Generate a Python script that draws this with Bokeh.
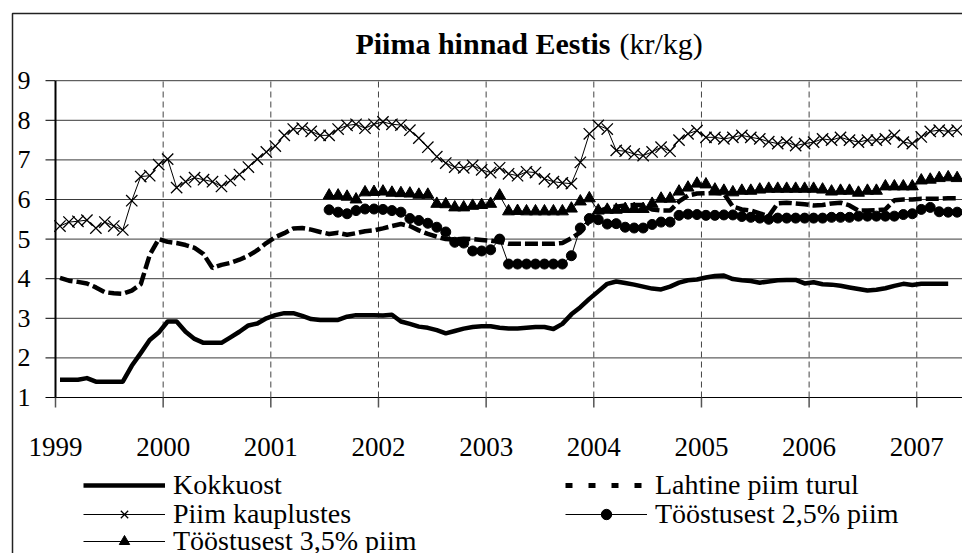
import pandas as pd
from bokeh.plotting import figure
from bokeh.models import Range1d, Legend, LegendItem, Label, ColumnDataSource
from bokeh.core.properties import value
from bokeh.embed import file_html
from bokeh.resources import INLINE

# ---------------- data (monthly prices, kr/kg) ----------------
year_ticks = [1999, 2000, 2001, 2002, 2003, 2004, 2005, 2006, 2007]
year_labels = [str(y) for y in year_ticks]
y_ticks = [1, 2, 3, 4, 5, 6, 7, 8, 9]
y_labels = [str(v) for v in y_ticks]

kokkuost_start = "1999-01"
kokkuost = [1.45, 1.45, 1.45, 1.49, 1.40, 1.40, 1.40, 1.40, 1.80, 2.12, 2.45, 2.64,
            2.92, 2.92, 2.66, 2.48, 2.38, 2.38, 2.38, 2.52, 2.66, 2.82, 2.87, 3.00,
            3.08, 3.13, 3.13, 3.06, 2.98, 2.96, 2.96, 2.96, 3.04, 3.08, 3.08, 3.08,
            3.07, 3.09, 2.92, 2.86, 2.79, 2.76, 2.70, 2.62, 2.68, 2.74, 2.78, 2.80,
            2.80, 2.76, 2.74, 2.74, 2.76, 2.78, 2.78, 2.73, 2.86, 3.10, 3.28, 3.49,
            3.68, 3.87, 3.93, 3.89, 3.85, 3.80, 3.75, 3.73, 3.80, 3.90, 3.96, 3.98,
            4.03, 4.07, 4.08, 3.99, 3.96, 3.94, 3.90, 3.93, 3.96, 3.97, 3.97, 3.88,
            3.91, 3.86, 3.85, 3.82, 3.78, 3.74, 3.70, 3.72, 3.76, 3.82, 3.87, 3.84,
            3.87, 3.87, 3.87, 3.87]

lahtine_start = "1999-01"
lahtine = [4.02, 3.95, 3.92, 3.88, 3.78, 3.66, 3.63, 3.62, 3.70, 3.86, 4.60, 5.00,
           4.93, 4.90, 4.85, 4.78, 4.62, 4.27, 4.35, 4.40, 4.48, 4.58, 4.72, 4.90,
           5.05, 5.15, 5.27, 5.28, 5.24, 5.18, 5.13, 5.16, 5.11, 5.15, 5.20, 5.22,
           5.27, 5.33, 5.38, 5.33, 5.22, 5.13, 5.06, 5.00, 4.99, 5.01, 5.00, 4.98,
           4.96, 4.93, 4.88, 4.88, 4.88, 4.88, 4.88, 4.88, 4.90, 5.02, 5.17, 5.45,
           5.70, 5.78, 5.82, 5.85, 5.86, 5.86, 5.75, 5.72, 5.72, 5.95, 6.10, 6.15,
           6.16, 6.16, 6.15, 5.82, 5.75, 5.72, 5.65, 5.58, 5.90, 5.92, 5.90, 5.88,
           5.85, 5.86, 5.90, 5.92, 5.85, 5.72, 5.72, 5.73, 5.75, 5.98, 6.00, 6.00,
           6.02, 6.02, 6.02, 6.03, 6.03]

kauplused_start = "1999-01"
kauplused = [5.33, 5.43, 5.45, 5.48, 5.28, 5.43, 5.33, 5.23, 5.97, 6.58, 6.60, 6.88,
             7.02, 6.30, 6.45, 6.55, 6.50, 6.45, 6.33, 6.48, 6.63, 6.82, 7.02, 7.20,
             7.35, 7.62, 7.78, 7.80, 7.72, 7.62, 7.62, 7.78, 7.87, 7.90, 7.80, 7.90,
             7.96, 7.90, 7.88, 7.75, 7.55, 7.32, 7.08, 6.92, 6.82, 6.80, 6.86, 6.75,
             6.68, 6.80, 6.65, 6.60, 6.70, 6.68, 6.52, 6.45, 6.42, 6.40, 6.94, 7.66,
             7.87, 7.78, 7.24, 7.22, 7.15, 7.11, 7.20, 7.32, 7.22, 7.50, 7.66, 7.74,
             7.57, 7.57, 7.53, 7.57, 7.62, 7.57, 7.53, 7.46, 7.41, 7.45, 7.36, 7.41,
             7.45, 7.53, 7.50, 7.57, 7.50, 7.45, 7.50, 7.50, 7.53, 7.62, 7.45, 7.41,
             7.58, 7.72, 7.75, 7.72, 7.75]

toostus25_start = "2001-07"
toostus25 = [5.74, 5.68, 5.64, 5.72, 5.76, 5.76,
             5.75, 5.72, 5.68, 5.52, 5.47, 5.40, 5.30, 5.18, 4.92, 4.90, 4.70, 4.70,
             4.73, 5.00, 4.37, 4.37, 4.37, 4.37, 4.37, 4.37, 4.37, 4.58, 5.28, 5.52,
             5.49, 5.38, 5.39, 5.30, 5.28, 5.28, 5.37, 5.43, 5.43, 5.60, 5.63, 5.62,
             5.60, 5.60, 5.61, 5.61, 5.57, 5.55, 5.53, 5.50, 5.53, 5.53, 5.53, 5.53,
             5.53, 5.53, 5.55, 5.55, 5.55, 5.58, 5.58, 5.58, 5.58, 5.58, 5.62, 5.64,
             5.75, 5.80, 5.69, 5.68, 5.68]

toostus35_start = "2001-07"
toostus35 = [6.10, 6.10, 6.07, 6.00, 6.18, 6.19,
             6.20, 6.17, 6.16, 6.15, 6.12, 6.12, 5.89, 5.88, 5.80, 5.80, 5.84, 5.86,
             5.89, 6.10, 5.70, 5.71, 5.70, 5.70, 5.70, 5.70, 5.70, 5.77, 5.95, 6.03,
             5.72, 5.74, 5.74, 5.76, 5.76, 5.76, 5.89, 6.02, 6.02, 6.20, 6.30, 6.40,
             6.38, 6.25, 6.22, 6.18, 6.22, 6.22, 6.25, 6.27, 6.27, 6.27, 6.27, 6.27,
             6.27, 6.25, 6.20, 6.22, 6.22, 6.17, 6.22, 6.22, 6.33, 6.33, 6.33, 6.33,
             6.48, 6.50, 6.54, 6.56, 6.54]

labels = ["Kokkuost", "Lahtine piim turul", "Piim kauplustes",
          "Tööstusest 2,5% piim", "Tööstusest 3,5% piim"]
title_bold = "Piima hinnad Eestis"
title_unit = "(kr/kg)"

# ---------------- layout constants (pixels) ----------------
W, H = 962, 553
PX_X0, PX_YEAR = 55.0, 107.66      # pixel of 1999, pixels per year
PX_Y1, PX_UNIT = 397.0, 39.6       # pixel of value 1, pixels per unit
X_START = year_ticks[0] - PX_X0 / PX_YEAR
X_END = year_ticks[0] + (W - PX_X0) / PX_YEAR
Y_TOP = y_ticks[0] + PX_Y1 / PX_UNIT
Y_BOT = y_ticks[0] - (H - PX_Y1) / PX_UNIT


def px_x(px):
    return X_START + px / PX_YEAR


def px_y(py):
    return Y_TOP - py / PX_UNIT


def month_x(start, n):
    per = pd.period_range(start=start, periods=n, freq="M")
    return list(per.year + (per.month - 0.5) / 12.0)


def src(start, vals):
    return ColumnDataSource(dict(x=month_x(start, len(vals)), y=vals))


FONT = "Liberation Serif"

p = figure(width=W, height=H,
           x_range=Range1d(X_START, X_END), y_range=Range1d(Y_BOT, Y_TOP),
           x_axis_type=None, y_axis_type=None, title_location=None,
           output_backend="svg", toolbar_location=None,
           min_border=0)
p.outline_line_color = None
p.background_fill_color = "white"
p.border_fill_color = "white"
p.xgrid.visible = False
p.ygrid.visible = False

x_left = year_ticks[0]
y_min, y_max = y_ticks[0], y_ticks[-1]

# horizontal grid lines
p.segment(x0=[x_left] * len(y_ticks), y0=y_ticks, x1=[X_END + 1] * len(y_ticks), y1=y_ticks,
          line_color="#3a3a3a", line_width=1)
# vertical dashed grid lines at years
p.segment(x0=year_ticks, y0=[y_min] * len(year_ticks), x1=year_ticks, y1=[y_max] * len(year_ticks),
          line_color="#444444", line_width=1, line_dash="6 4")
# bottom axis line
p.segment(x0=[x_left], y0=[y_min], x1=[X_END + 1], y1=[y_min], line_color="black", line_width=1)
# ticks
tick_x = 10 / PX_YEAR
tick_y = 10 / PX_UNIT
p.segment(x0=[x_left - tick_x] * len(y_ticks), y0=y_ticks, x1=[x_left] * len(y_ticks), y1=y_ticks,
          line_color="black", line_width=1)
p.segment(x0=year_ticks, y0=[y_min] * len(year_ticks), x1=year_ticks,
          y1=[y_min - tick_y] * len(year_ticks), line_color="#555555", line_width=1.5)
# left axis line
p.segment(x0=[x_left], y0=[y_min], x1=[x_left], y1=[y_max], line_color="black", line_width=2)

# tick labels
p.text(x=[x_left] * len(y_ticks), y=y_ticks, text=y_labels, x_offset=-25,
       text_align="right", text_baseline="middle", text_font=value(FONT),
       text_font_size=value("26px"), text_color="black")
p.text(x=year_ticks, y=[y_min] * len(year_ticks), text=year_labels, y_offset=49,
       text_align="center", text_baseline="middle", text_font=value(FONT),
       text_font_size=value("27px"), text_color="black")

# outer border (left and top edges of the chart box)
bx, by = px_x(12), px_y(13)
p.line(x=[bx, bx, X_END + 1], y=[Y_BOT - 1, by, by], line_color="#222222", line_width=1.5)

# series
r_kok = p.line("x", "y", source=src(kokkuost_start, kokkuost),
               line_color="black", line_width=4.5, line_join="round")
r_lah = p.line("x", "y", source=src(lahtine_start, lahtine),
               line_color="black", line_width=4.5, line_dash="13 4")
s_kau = src(kauplused_start, kauplused)
r_kau_l = p.line("x", "y", source=s_kau, line_color="black", line_width=1)
r_kau_m = p.scatter("x", "y", source=s_kau, marker="x", size=16,
                    line_color="black", line_width=1.3)
s_25 = src(toostus25_start, toostus25)
r_25_l = p.line("x", "y", source=s_25, line_color="black", line_width=1)
r_25_m = p.scatter("x", "y", source=s_25, marker="circle", size=10,
                   fill_color="black", line_color="black")
s_35 = src(toostus35_start, toostus35)
r_35_l = p.line("x", "y", source=s_35, line_color="black", line_width=1)
r_35_m = p.scatter("x", "y", source=s_35, marker="triangle", size=12,
                   fill_color="black", line_color="black")

# legend-only sample for the dashed series (short square dashes, as in the key);
# its data are NaN so nothing is drawn in the plot itself
nan = float("nan")
r_lah_key = p.line(x=[nan, nan], y=[nan, nan], line_color="black",
                   line_width=5, line_dash="7 16")

# title (bold part + normal part)
p.add_layout(Label(x=610, y=H - 43, x_units="screen", y_units="screen",
                   text=title_bold, text_align="right",
                   text_baseline="alphabetic", text_font=FONT,
                   text_font_size="30px", text_font_style="bold",
                   text_color="black"))
p.add_layout(Label(x=619, y=H - 43, x_units="screen", y_units="screen",
                   text=title_unit, text_align="left",
                   text_baseline="alphabetic", text_font=FONT,
                   text_font_size="30px", text_color="black"))

# legend: one row per Legend so that the row pitch matches the reference
rows = [
    ([LegendItem(label=labels[0], renderers=[r_kok]),
      LegendItem(label=labels[1], renderers=[r_lah_key])], 486),
    ([LegendItem(label=labels[2], renderers=[r_kau_l, r_kau_m]),
      LegendItem(label=labels[3], renderers=[r_25_l, r_25_m])], 515),
    ([LegendItem(label=labels[4], renderers=[r_35_l, r_35_m])], 542),
]
LEG_FONT = 28
row_h = LEG_FONT * 1.107
for items, center in rows:
    top = center - row_h / 2
    lg = Legend(items=items, location=(83, H - top - row_h),
                orientation="horizontal", ncols=2)
    lg.glyph_width = 82
    lg.glyph_height = 26
    lg.label_standoff = 8
    lg.label_width = 392
    lg.label_height = 20
    lg.spacing = 0
    lg.padding = 0
    lg.margin = 0
    lg.border_line_color = None
    lg.background_fill_alpha = 0
    lg.label_text_font = FONT
    lg.label_text_font_size = f"{LEG_FONT}px"
    lg.label_text_color = "black"
    p.add_layout(lg)

open("out.html", "w").write(file_html(p, INLINE))
